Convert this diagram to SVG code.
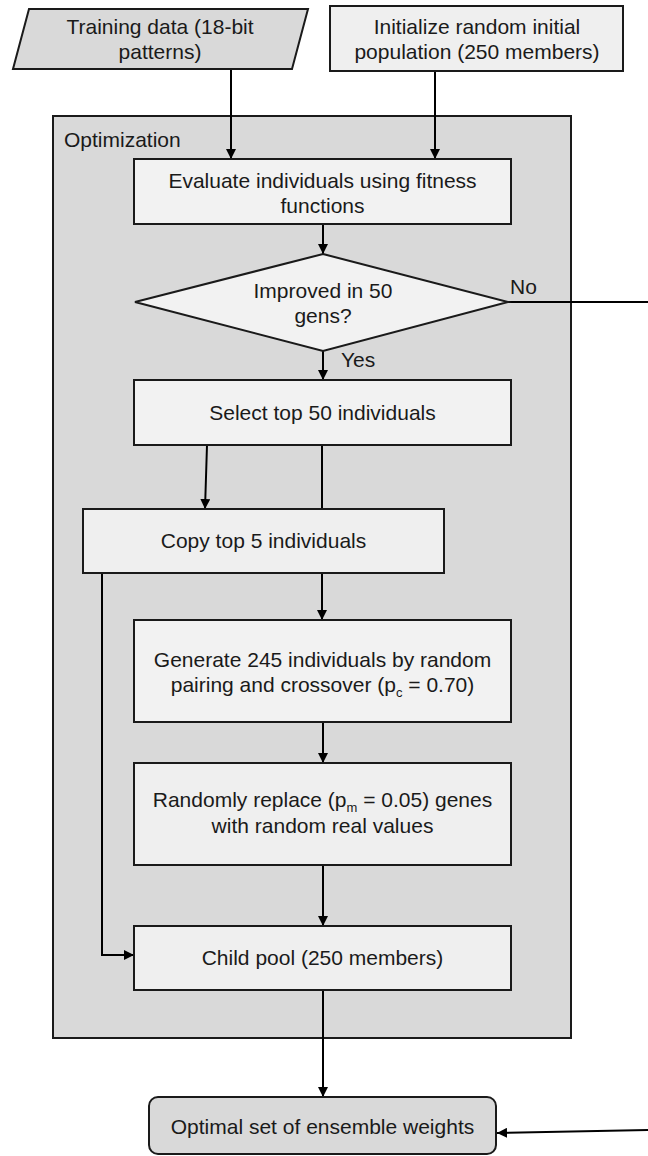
<svg xmlns="http://www.w3.org/2000/svg" width="648" height="1156" viewBox="0 0 648 1156">
  <defs>
    <marker id="arrow" viewBox="0 0 10 10" refX="10" refY="5" markerWidth="5" markerHeight="5" orient="auto" markerUnits="strokeWidth">
      <path d="M0,0 L10,5 L0,10 z" fill="#000"/>
    </marker>
    <style>
      .lbl { font-family: "Liberation Sans", Arial, sans-serif; font-size: 21px; fill: #1a1a1a; text-anchor: middle; }
      .tag { font-family: "Liberation Sans", Arial, sans-serif; font-size: 21px; fill: #1a1a1a; }
      .sub { font-size: 13px; }
      .box { fill: #f2f2f2; stroke: #1a1a1a; stroke-width: 2; }
      .dark { fill: #d9d9d9; stroke: #1a1a1a; stroke-width: 2; }
      .wire { fill: none; stroke: #000; stroke-width: 2; }
      .arr { marker-end: url(#arrow); }
    </style>
  </defs>

  <rect width="648" height="1156" fill="#fff"/>

  <!-- Optimization container -->
  <g id="optimization">
    <rect class="dark" x="53" y="116" width="518" height="922"/>
    <text class="tag" x="64" y="147">Optimization</text>
  </g>

  <!-- Connectors (drawn under the nodes so the Select-to-Generate line passes behind Copy) -->
  <g id="connectors">
    <path class="wire arr" d="M231,69 V159"/>
    <path class="wire arr" d="M435,71 V159"/>
    <path class="wire arr" d="M323,224 V254"/>
    <path class="wire arr" d="M323,351 V380"/>
    <path class="wire" d="M508,302 H648"/>
    <path class="wire arr" d="M207,445 L205,509"/>
    <path class="wire arr" d="M322,445 V620"/>
    <path class="wire arr" d="M102,573 V955 H134"/>
    <path class="wire arr" d="M323,722 V763"/>
    <path class="wire arr" d="M323,865 V926"/>
    <path class="wire arr" d="M323,990 V1097"/>
    <path class="wire arr" d="M648,1130 L497,1133"/>
    <text class="tag" x="510" y="294">No</text>
    <text class="tag" x="341" y="367">Yes</text>
  </g>

  <g id="training-data">
    <polygon class="dark" points="29,9 308,9 292,69 13,69"/>
    <text class="lbl" x="160" y="34">Training data (18-bit</text>
    <text class="lbl" x="160" y="59">patterns)</text>
  </g>

  <g id="init-population">
    <rect class="box" x="330" y="6" width="293" height="65" style="fill:#efefef"/>
    <text class="lbl" x="477" y="34">Initialize random initial</text>
    <text class="lbl" x="477" y="59">population (250 members)</text>
  </g>

  <g id="evaluate">
    <rect class="box" x="134" y="159" width="377" height="65"/>
    <text class="lbl" x="322.5" y="188">Evaluate individuals using fitness</text>
    <text class="lbl" x="322.5" y="213">functions</text>
  </g>

  <g id="improved">
    <polygon class="box" points="323,254 508,302 323,351 135,302"/>
    <text class="lbl" x="323" y="298">Improved in 50</text>
    <text class="lbl" x="323" y="323">gens?</text>
  </g>

  <g id="select">
    <rect class="box" x="134" y="380" width="377" height="65"/>
    <text class="lbl" x="322.5" y="420">Select top 50 individuals</text>
  </g>

  <g id="copy">
    <rect class="box" x="83" y="509" width="361" height="64" style="fill:#efefef"/>
    <text class="lbl" x="263.5" y="548">Copy top 5 individuals</text>
  </g>

  <g id="generate">
    <rect class="box" x="134" y="620" width="377" height="102"/>
    <text class="lbl" x="322.5" y="667">Generate 245 individuals by random</text>
    <text class="lbl" x="322.5" y="692">pairing and crossover (p<tspan class="sub" dy="5">c</tspan><tspan dy="-5"> = 0.70)</tspan></text>
  </g>

  <g id="mutate">
    <rect class="box" x="134" y="763" width="377" height="102" style="fill:#efefef"/>
    <text class="lbl" x="322.5" y="807">Randomly replace (p<tspan class="sub" dy="5">m</tspan><tspan dy="-5"> = 0.05) genes</tspan></text>
    <text class="lbl" x="322.5" y="833">with random real values</text>
  </g>

  <g id="child-pool">
    <rect class="box" x="134" y="926" width="377" height="64" style="fill:#efefef"/>
    <text class="lbl" x="322.5" y="965">Child pool (250 members)</text>
  </g>

  <g id="optimal-weights">
    <rect class="dark" x="149" y="1097" width="347" height="57" rx="9" ry="9"/>
    <text class="lbl" x="322.5" y="1134">Optimal set of ensemble weights</text>
  </g>
</svg>
